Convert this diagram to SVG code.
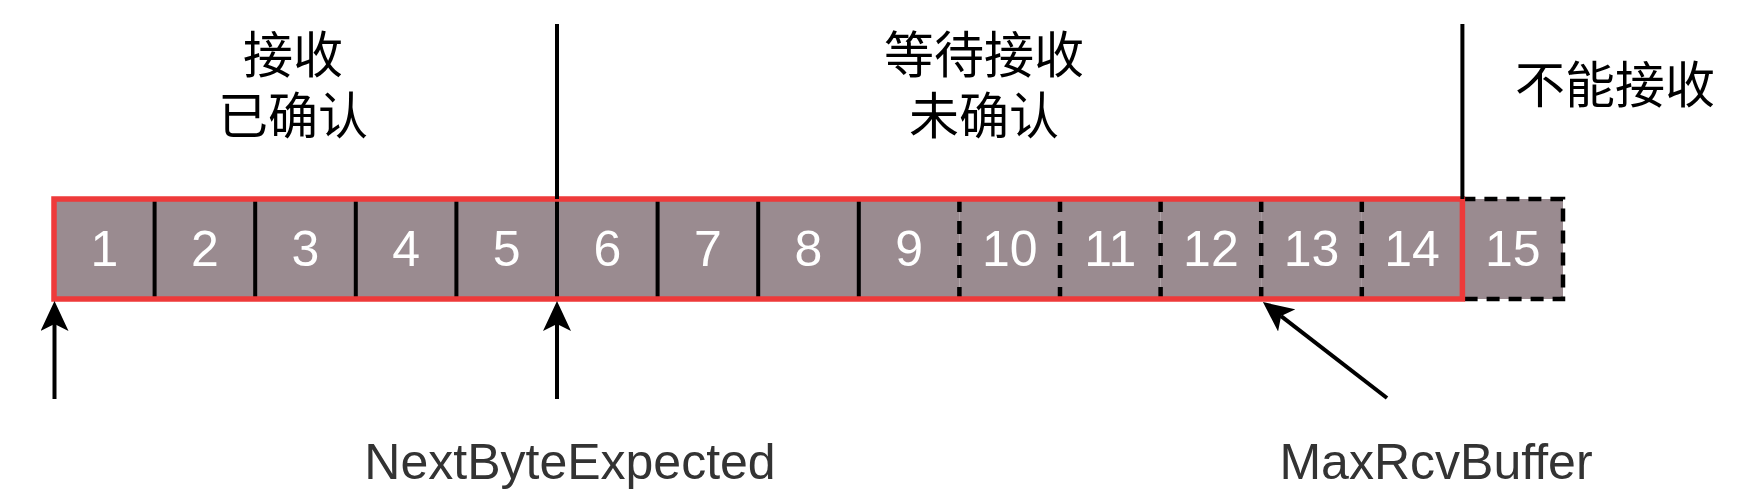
<svg xmlns="http://www.w3.org/2000/svg" width="1742" height="494" viewBox="0 0 1742 494">
<style>
.cell{fill:#9a8b90;stroke:none}
.num{font-family:"Liberation Sans",Arial,sans-serif;font-size:50px;fill:#ffffff;text-anchor:middle}
.solid{stroke:#000;stroke-width:4;fill:none}
.dash{stroke:#000;stroke-width:4.5;fill:none;stroke-dasharray:13 9}
.cjk{font-family:"Noto Sans CJK SC","Noto Sans",sans-serif;font-size:50px;fill:#000;text-anchor:middle}
.lbl{font-family:"Liberation Sans",Arial,sans-serif;font-size:50px;fill:#333333;text-anchor:middle}
.conn{stroke:#000;stroke-width:4;fill:none}
</style>
<defs>
<marker id="arr" markerUnits="userSpaceOnUse" viewBox="0 0 30 28" refX="7" refY="14" markerWidth="30" markerHeight="28" orient="auto">
<path d="M30,14 L0,0 L7,14 L0,28 Z" fill="#000"/>
</marker>
</defs>
<rect width="1742" height="494" fill="#ffffff"/>
<g id="cell1"><rect class="cell" x="54" y="199" width="100.6" height="100"/><text class="num" x="104.3" y="266">1</text></g>
<g id="cell2"><rect class="cell" x="154.6" y="199" width="100.6" height="100"/><text class="num" x="204.9" y="266">2</text></g>
<g id="cell3"><rect class="cell" x="255.2" y="199" width="100.6" height="100"/><text class="num" x="305.5" y="266">3</text></g>
<g id="cell4"><rect class="cell" x="355.8" y="199" width="100.6" height="100"/><text class="num" x="406.1" y="266">4</text></g>
<g id="cell5"><rect class="cell" x="456.4" y="199" width="100.6" height="100"/><text class="num" x="506.7" y="266">5</text></g>
<g id="cell6"><rect class="cell" x="557" y="199" width="100.6" height="100"/><text class="num" x="607.3" y="266">6</text></g>
<g id="cell7"><rect class="cell" x="657.6" y="199" width="100.6" height="100"/><text class="num" x="707.9" y="266">7</text></g>
<g id="cell8"><rect class="cell" x="758.2" y="199" width="100.6" height="100"/><text class="num" x="808.5" y="266">8</text></g>
<g id="cell9"><rect class="cell" x="858.8" y="199" width="100.6" height="100"/><text class="num" x="909.1" y="266">9</text></g>
<g id="cell10"><rect class="cell" x="959.4" y="199" width="100.6" height="100"/><text class="num" x="1009.7" y="266">10</text></g>
<g id="cell11"><rect class="cell" x="1060" y="199" width="100.6" height="100"/><text class="num" x="1110.3" y="266">11</text></g>
<g id="cell12"><rect class="cell" x="1160.6" y="199" width="100.6" height="100"/><text class="num" x="1210.9" y="266">12</text></g>
<g id="cell13"><rect class="cell" x="1261.2" y="199" width="100.6" height="100"/><text class="num" x="1311.5" y="266">13</text></g>
<g id="cell14"><rect class="cell" x="1361.8" y="199" width="100.6" height="100"/><text class="num" x="1412.1" y="266">14</text></g>
<g id="cell15"><rect class="cell" x="1462.4" y="199" width="100.6" height="100"/><text class="num" x="1512.7" y="266">15</text>
<path class="dash" d="M1462.4,199 H1563 V299 H1462.4"/></g>
<g id="dividers">
<path class="solid" d="M54,199 V299 M154.6,199 V299 M255.2,199 V299 M355.8,199 V299 M456.4,199 V299 M557,199 V299 M657.6,199 V299 M758.2,199 V299 M858.8,199 V299"/>
<path class="dash" d="M959.4,199 V299 M1060,199 V299 M1160.6,199 V299 M1261.2,199 V299 M1361.8,199 V299"/>
</g>
<g id="window"><rect x="54" y="199" width="1408.4" height="100" fill="none" stroke="#ee3a3a" stroke-width="5.5"/></g>
<g id="separators">
<line class="solid" x1="557" y1="24" x2="557" y2="199"/>
<line class="solid" x1="1462.4" y1="24" x2="1462.4" y2="199"/>
</g>
<g id="labels">
<text class="cjk" x="293" y="73"><tspan x="293" y="73">接收</tspan><tspan x="293" y="134">已确认</tspan></text>
<text class="cjk" x="984" y="73"><tspan x="984" y="73">等待接收</tspan><tspan x="984" y="134">未确认</tspan></text>
<text class="cjk" x="1615" y="103">不能接收</text>
<text class="lbl" x="570" y="479">NextByteExpected</text>
<text class="lbl" x="1436" y="479">MaxRcvBuffer</text>
</g>
<g id="connectors">
<line class="conn" x1="54.5" y1="399" x2="54.5" y2="324" marker-end="url(#arr)"/>
<line class="conn" x1="557" y1="399" x2="557" y2="324" marker-end="url(#arr)"/>
<line class="conn" x1="1387" y1="398" x2="1281.1" y2="316.1" marker-end="url(#arr)"/>
</g>
</svg>
